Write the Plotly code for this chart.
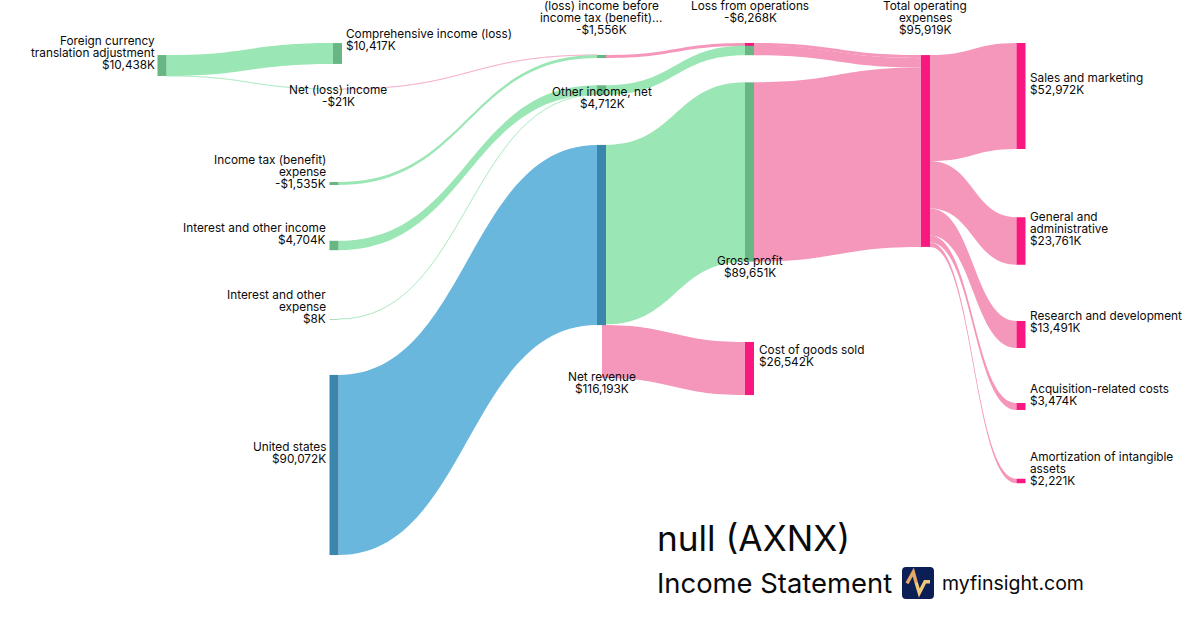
import plotly.graph_objects as go

W, H = 1200, 630

# ---- data ----
node_names = [
    "Foreign currency|translation adjustment", "Comprehensive income (loss)", "Net (loss) income",
    "Income tax (benefit)|expense", "Interest and other income", "Interest and other|expense",
    "United states", "Net revenue", "(loss) income before|income tax (benefit)...",
    "Other income, net", "Gross profit", "Cost of goods sold", "Loss from operations",
    "Total operating|expenses", "Sales and marketing", "General and|administrative",
    "Research and development", "Acquisition-related costs", "Amortization of intangible|assets",
]
node_values = [10438, 10417, -21, -1535, 4704, 8, 90072, 116193, -1556, 4712, 89651,
               26542, -6268, 95919, 52972, 23761, 13491, 3474, 2221]
# two helper nodes: start of the net revenue -> cost of goods band, lower part of the loss node
HELP_COGS, HELP_LOSS = 19, 20

link_source = [0, 0, 2, 3, 8, 4, 5, 9, 6, 7, 19, 10, 12, 20, 13, 13, 13, 13, 13]
link_target = [1, 2, 8, 8, 12, 9, 9, 20, 7, 10, 11, 13, 13, 13, 14, 15, 16, 17, 18]
link_value = [10417, 21, 21, 1535, 1556, 4704, 8, 4712, 90072, 89651, 26542, 89651, 1556, 4712,
              52972, 23761, 13491, 3474, 2221]
link_kind = ["g", "t", "u", "g", "p", "g", "t", "g", "b", "g", "p", "p", "p", "p",
             "p", "p", "p", "p", "p"]
node_kind = ["g", "g", "g", "g", "g", "g", "b", "b", "g", "g", "g", "p", "p", "p",
             "p", "p", "p", "p", "p", "none", "g"]

# ---- styles ----
LINK = {"g": "#9AE6B4", "p": "#F597BB", "b": "#6AB7DD",
        "t": "rgba(154,230,180,0.5)", "u": "rgba(245,151,187,0.5)"}
NODE = {"g": "#68B684", "p": "#F8187F", "b": "#3A86AC", "none": "rgba(0,0,0,0)"}
TEXT = "#0A0A0A"
FONT = "Inter"
THICK = 9
PAD = 72.68

# ---- node placement, as fractions of the plot ----
node_cx = [162, 337.5, 338, 334, 334, 334, 334, 601.5, 601.5, 601.5, 749.5, 749.5, 749.5,
           925.5, 1021, 1021, 1021, 1021, 1021, 597.5, 749.5]
node_cy = [65.5, 53.5, 89, 183.5, 245.5, 319, 465, 235, 56.5, 90, 172, 368.5, 44.5,
           151, 96, 241, 334.5, 406.5, 481, 351.5, 50.5]

# ---- label placement: anchor, x, y of the first line ----
label_pos = [
    ("right", 155, 40), ("left", 346, 33), ("center", 338, 89), ("right", 326, 159),
    ("right", 326, 227), ("right", 326, 294), ("right", 326, 446), ("center", 602, 376),
    ("center", 601, 5), ("center", 602, 91), ("center", 750, 260), ("left", 759, 349),
    ("center", 750, 5), ("center", 925, 5), ("left", 1030, 77), ("left", 1030, 216),
    ("left", 1030, 315), ("left", 1030, 388), ("left", 1030, 456),
]
LINE = 12
FONT_SIZE = 11.8
LABEL_DY = 0.8


def money(v):
    return ("-" if v < 0 else "") + "${:,}K".format(abs(v))


annotations = []


def text(x, y, s, size=FONT_SIZE, anchor="left"):
    annotations.append(dict(
        x=x / W, y=1 - y / H, xref="paper", yref="paper", text=s, showarrow=False,
        xanchor=anchor, yanchor="middle", align=anchor, borderpad=0, borderwidth=0,
        font=dict(family=FONT, size=size, color=TEXT),
    ))


for name, val, (anc, x, y) in zip(node_names, node_values, label_pos):
    for i, line in enumerate(name.split("|") + [money(val)]):
        text(x, y + i * LINE + LABEL_DY, line, anchor=anc)

text(657, 538, "null (AXNX)", size=35.2)
text(657, 583, "Income Statement", size=27.4)
text(942, 583, "myfinsight.com", size=19.5)

fig = go.Figure(go.Sankey(
    arrangement="fixed",
    domain=dict(x=[0, 1], y=[0, 1]),
    node=dict(
        align="left",
        label=[""] * len(node_kind),
        x=[v / W for v in node_cx],
        y=[v / H for v in node_cy],
        thickness=THICK,
        pad=PAD,
        color=[NODE[k] for k in node_kind],
        line=dict(width=0),
        hoverinfo="skip",
    ),
    link=dict(
        source=link_source,
        target=link_target,
        value=link_value,
        color=[LINK[k] for k in link_kind],
        line=dict(width=0),
        hoverinfo="skip",
    ),
))


def P(x, y):
    return f"{x / W:.5f},{1 - y / H:.5f}"


def rounded(x0, y0, x1, y1, r):
    return (f"M{P(x0 + r, y0)} L{P(x1 - r, y0)} Q{P(x1, y0)} {P(x1, y0 + r)} "
            f"L{P(x1, y1 - r)} Q{P(x1, y1)} {P(x1 - r, y1)} L{P(x0 + r, y1)} "
            f"Q{P(x0, y1)} {P(x0, y1 - r)} L{P(x0, y0 + r)} Q{P(x0, y0)} {P(x0 + r, y0)} Z")


pulse_left = [(907, 583.3), (913.3, 572), (916, 582)]
pulse_right = [(916, 582), (919.3, 593), (925, 581.7), (930, 581.7)]
shapes = [
    dict(type="path", xref="paper", yref="paper", path=rounded(902, 567, 934, 599, 4),
         fillcolor="#0B1F56", line=dict(width=0)),
    dict(type="path", xref="paper", yref="paper",
         path="M" + " L".join(P(*p) for p in pulse_left),
         line=dict(color="#E3A663", width=3.4), fillcolor="rgba(0,0,0,0)"),
    dict(type="path", xref="paper", yref="paper",
         path="M" + " L".join(P(*p) for p in pulse_right),
         line=dict(color="#EFC878", width=3.4), fillcolor="rgba(0,0,0,0)"),
]

fig.update_layout(
    width=W, height=H, margin=dict(l=0, r=0, t=0, b=0, pad=0),
    paper_bgcolor="white", plot_bgcolor="white",
    annotations=annotations, shapes=shapes, showlegend=False,
)
fig.write_html("out.html", config={"displayModeBar": False},
               post_script="document.body.style.margin='0';")
